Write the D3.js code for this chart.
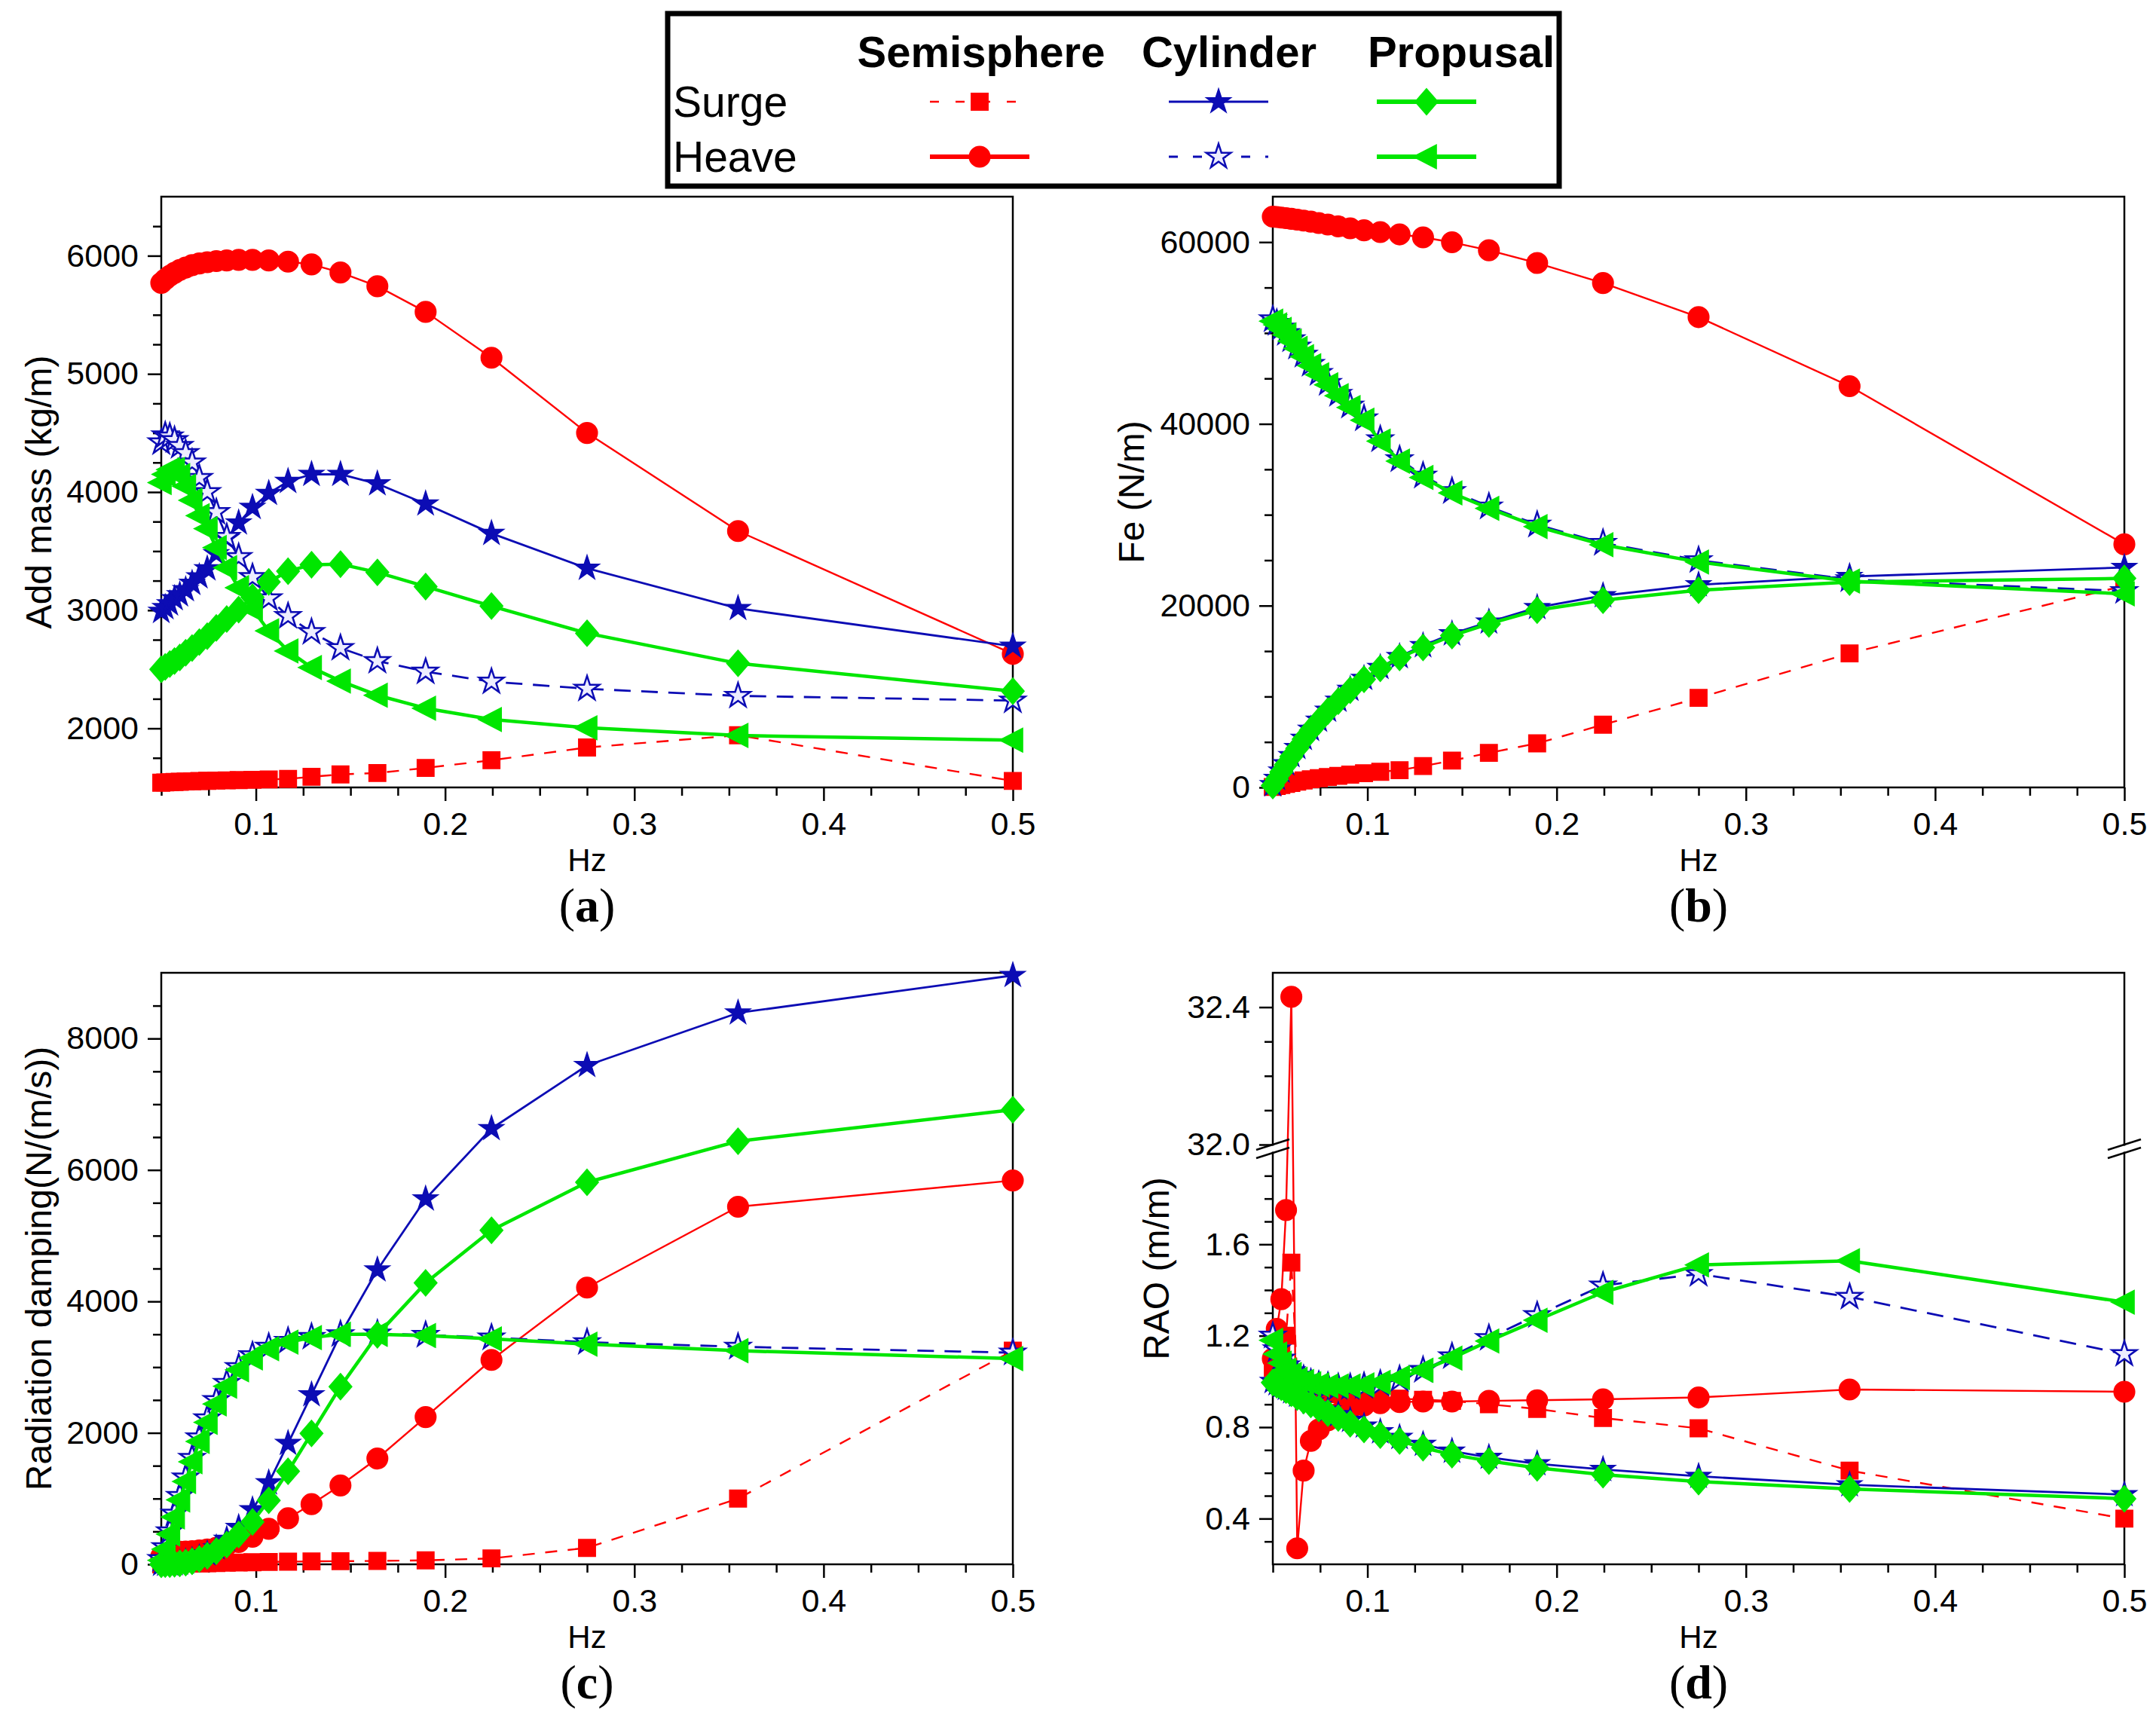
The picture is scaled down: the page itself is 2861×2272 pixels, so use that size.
<!DOCTYPE html>
<html>
<head>
<meta charset="utf-8">
<title>Semisphere / Cylinder / Propusal hydrodynamics</title>
<script src="https://cdnjs.cloudflare.com/ajax/libs/d3/7.8.5/d3.min.js"></script>
<style>
  body { margin: 0; background: #fff; }
  svg { display: block; }
</style>
</head>
<body>
<svg id="chart" width="2861" height="2272"></svg>
<script>
// frequency points (Hz), shared by every panel
var freq = [0.0500, 0.0521, 0.0545, 0.0570, 0.0598, 0.0629, 0.0663, 0.0701, 0.0743, 0.0791, 0.0846, 0.0909,
            0.0982, 0.1068, 0.1170, 0.1294, 0.1447, 0.1642, 0.1897, 0.2245, 0.2750, 0.3548, 0.5000];

// (a) added mass, kg/m
var massSemiSurge = [1540, 1542, 1544, 1546, 1548, 1550, 1552, 1554, 1556, 1558, 1560, 1562, 1565, 1568, 1572, 1590, 1610, 1622, 1665, 1730, 1838, 1942, 1555];
var massSemiHeave = [5770, 5800, 5830, 5855, 5880, 5900, 5920, 5935, 5945, 5955, 5960, 5965, 5965, 5960, 5950, 5927, 5858, 5742, 5525, 5137, 4500, 3670, 2630];
var massCylSurge  = [2990, 3022, 3054, 3098, 3130, 3174, 3228, 3283, 3350, 3478, 3609, 3739, 3870, 3989, 4090, 4150, 4150, 4070, 3900, 3650, 3355, 3015, 2695];
var massCylHeave  = [4420, 4480, 4470, 4440, 4390, 4330, 4250, 4120, 4000, 3830, 3620, 3450, 3280, 3100, 2950, 2815, 2680, 2570, 2480, 2395, 2335, 2275, 2235];
var massPropSurge = [2500, 2520, 2545, 2570, 2600, 2640, 2680, 2730, 2780, 2850, 2925, 3005, 3110, 3240, 3330, 3385, 3390, 3320, 3200, 3035, 2805, 2550, 2315];
var massPropHeave = [4080, 4150, 4190, 4190, 4140, 4050, 3930, 3800, 3690, 3530, 3360, 3190, 3010, 2825, 2655, 2515, 2400, 2280, 2170, 2075, 2005, 1940, 1900];

// (b) exciting force Fe, N/m
var feSemiSurge = [50, 150, 260, 380, 500, 630, 770, 900, 1020, 1150, 1280, 1410, 1560, 1720, 1900, 2350, 2950, 3800, 4850, 6900, 9850, 14750, 22200];
var feSemiHeave = [62800, 62760, 62700, 62640, 62560, 62470, 62370, 62250, 62100, 61930, 61740, 61520, 61300, 61100, 60850, 60520, 59980, 59100, 57700, 55500, 51750, 44150, 26750];
var feCylSurge  = [300, 1000, 1800, 2600, 3500, 4400, 5400, 6400, 7400, 8500, 9600, 10800, 12000, 13200, 14400, 15600, 16900, 18200, 19800, 21100, 22300, 23200, 24200];
var feCylHeave  = [51500, 51100, 50600, 50000, 49300, 48500, 47600, 46600, 45600, 44500, 43300, 42000, 40600, 38300, 36100, 34300, 32600, 30900, 28900, 26900, 25000, 22900, 21600];
var fePropSurge = [200, 900, 1700, 2500, 3400, 4300, 5300, 6300, 7300, 8400, 9500, 10700, 11900, 13100, 14300, 15400, 16700, 18000, 19500, 20600, 21700, 22600, 23000];
var fePropHeave = [51300, 50900, 50400, 49800, 49100, 48300, 47400, 46400, 45400, 44300, 43100, 41800, 40400, 38100, 35900, 34100, 32400, 30700, 28700, 26700, 24800, 22700, 21300];

// (c) radiation damping, N/(m/s)
var dampSemiSurge = [0, 2, 4, 6, 8, 10, 12, 14, 17, 20, 24, 28, 32, 36, 40, 44, 48, 52, 60, 90, 250, 1000, 3250];
var dampSemiHeave = [120, 150, 170, 180, 190, 195, 200, 210, 225, 250, 290, 340, 420, 540, 700, 915, 1200, 1610, 2240, 3110, 4210, 5440, 5840];
var dampCylSurge  = [0, 2, 5, 10, 20, 35, 60, 100, 160, 250, 380, 560, 830, 1240, 1840, 2580, 3500, 4480, 5560, 6630, 7590, 8390, 8960];
var dampCylHeave  = [80, 260, 500, 770, 1040, 1320, 1620, 1930, 2220, 2500, 2760, 3000, 3180, 3310, 3400, 3460, 3500, 3510, 3490, 3450, 3380, 3310, 3220];
var dampPropSurge = [0, 2, 4, 8, 15, 25, 45, 80, 130, 200, 300, 454, 646, 973, 1415, 1992, 2704, 3492, 4281, 5083, 5813, 6438, 6917];
var dampPropHeave = [60, 230, 460, 720, 980, 1260, 1560, 1870, 2160, 2440, 2710, 2960, 3140, 3280, 3380, 3450, 3500, 3500, 3480, 3430, 3350, 3250, 3130];

// (d) RAO, m/m
var raoSemiSurge = [1.06, 1.08, 1.12, 1.20, 1.52, 1.02, 0.99, 0.975, 0.965, 0.955, 0.945, 0.94, 0.935, 0.93, 0.925, 0.92, 0.915, 0.90, 0.88, 0.84, 0.795, 0.61, 0.40];
var raoSemiHeave = [1.10, 1.23, 1.36, 1.75, 32.43, 0.27, 0.61, 0.74, 0.79, 0.83, 0.86, 0.88, 0.895, 0.905, 0.91, 0.912, 0.912, 0.915, 0.918, 0.922, 0.93, 0.965, 0.955];
var raoCylSurge  = [1.0, 0.99, 0.98, 0.97, 0.955, 0.94, 0.925, 0.91, 0.895, 0.875, 0.855, 0.83, 0.805, 0.78, 0.755, 0.725, 0.695, 0.668, 0.64, 0.615, 0.585, 0.548, 0.505];
var raoCylHeave  = [1.20, 1.14, 1.10, 1.07, 1.045, 1.025, 1.01, 0.995, 0.985, 0.98, 0.975, 0.975, 0.98, 0.99, 1.01, 1.05, 1.11, 1.19, 1.29, 1.42, 1.47, 1.37, 1.12];
var raoPropSurge = [0.995, 0.985, 0.975, 0.962, 0.948, 0.932, 0.916, 0.90, 0.882, 0.862, 0.84, 0.815, 0.79, 0.765, 0.74, 0.71, 0.68, 0.652, 0.622, 0.592, 0.562, 0.53, 0.487];
var raoPropHeave = [1.18, 1.12, 1.08, 1.05, 1.03, 1.01, 1.0, 0.99, 0.985, 0.98, 0.98, 0.98, 0.985, 0.996, 1.017, 1.049, 1.102, 1.177, 1.268, 1.39, 1.51, 1.528, 1.347];

// legend / tick labels
var bodies = ["Semisphere", "Cylinder", "Propusal"];
var motions = ["Surge", "Heave"];
var xTicks = [0.1, 0.2, 0.3, 0.4, 0.5];
var massTicks = [2000, 3000, 4000, 5000, 6000];
var feTicks = [0, 20000, 40000, 60000];
var dampTicks = [0, 2000, 4000, 6000, 8000];
var raoTicks = [0.4, 0.8, 1.2, 1.6, 32.0, 32.4];

var RED = "#ff0000", BLUE = "#0c0cb4", GREEN = "#00e600";
var SANS = "'Liberation Sans', Arial, sans-serif";
var SERIF = "'Liberation Serif', 'Times New Roman', serif";

/* custom marker shapes */
var diamond = {
    draw: function (ctx, size) {
        var h = Math.sqrt(size) * 0.8, w = h * 0.87;
        ctx.moveTo(0, -h); ctx.lineTo(w, 0); ctx.lineTo(0, h); ctx.lineTo(-w, 0); ctx.closePath();
    }
};
var triLeft = {
    draw: function (ctx, size) {
        var r = Math.sqrt(size) * 0.85;
        ctx.moveTo(-r, 0); ctx.lineTo(r * 0.75, -r * 0.9); ctx.lineTo(r * 0.75, r * 0.9); ctx.closePath();
    }
};

// one style per body/motion pair
var styles = {
    semiSurge: { color: RED, width: 2.4, dash: "16,14", symbol: d3.symbolSquare, size: 500, fill: RED },
    semiHeave: { color: RED, width: 2.4, dash: null, symbol: d3.symbolCircle, size: 600, fill: RED },
    cylSurge:  { color: BLUE, width: 2.8, dash: null, symbol: d3.symbolStar, size: 330, fill: BLUE },
    cylHeave:  { color: BLUE, width: 2.8, dash: "22,14", symbol: d3.symbolStar, size: 330, fill: "#ececff" },
    propSurge: { color: GREEN, width: 4.5, dash: null, symbol: diamond, size: 470, fill: GREEN },
    propHeave: { color: GREEN, width: 4.5, dash: null, symbol: triLeft, size: 420, fill: GREEN }
};
var order = ["semiSurge", "semiHeave", "cylSurge", "cylHeave", "propSurge", "propHeave"];

var panels = [
    { tag: "a", left: 214, right: 1344, top: 261, bottom: 1045, domain: [1500, 6500], ticks: massTicks, minor: 250,
      fmt: d3.format("d"), title: "Add mass (kg/m)", titleX: 51,
      data: { semiSurge: massSemiSurge, semiHeave: massSemiHeave, cylSurge: massCylSurge, cylHeave: massCylHeave, propSurge: massPropSurge, propHeave: massPropHeave } },
    { tag: "b", left: 1689, right: 2819, top: 261, bottom: 1045, domain: [0, 65000], ticks: feTicks, minor: 5000,
      fmt: d3.format("d"), title: "Fe (N/m)", titleX: 1501,
      data: { semiSurge: feSemiSurge, semiHeave: feSemiHeave, cylSurge: feCylSurge, cylHeave: feCylHeave, propSurge: fePropSurge, propHeave: fePropHeave } },
    { tag: "c", left: 214, right: 1344, top: 1291, bottom: 2076, domain: [0, 9000], ticks: dampTicks, minor: 500,
      fmt: d3.format("d"), title: "Radiation damping(N/(m/s))", titleX: 51,
      data: { semiSurge: dampSemiSurge, semiHeave: dampSemiHeave, cylSurge: dampCylSurge, cylHeave: dampCylHeave, propSurge: dampPropSurge, propHeave: dampPropHeave } },
    { tag: "d", left: 1689, right: 2819, top: 1291, bottom: 2076, broken: true, ticks: raoTicks,
      fmt: d3.format(".1f"), title: "RAO (m/m)", titleX: 1534,
      data: { semiSurge: raoSemiSurge, semiHeave: raoSemiHeave, cylSurge: raoCylSurge, cylHeave: raoCylHeave, propSurge: raoPropSurge, propHeave: raoPropHeave } }
];

var svg = d3.select("#chart");
svg.append("rect").attr("width", 2861).attr("height", 2272).attr("fill", "#fff");

function styleAxis(g) {
    g.select(".domain").remove();
    g.selectAll("line").attr("stroke", "#000").attr("stroke-width", 2.5);
    g.selectAll("text").attr("font-family", SANS).attr("font-size", 43).attr("fill", "#000");
}

panels.forEach(function (p) {
    var g = svg.append("g");
    var x = d3.scaleLinear().domain([0.05, 0.5]).range([p.left, p.right]);
    var y, lowTop, upBottom;
    if (p.broken) {
        lowTop = 1530; upBottom = 1519;
        y = d3.scaleLinear().domain([0.2, 2.0, 32.0, 32.5]).range([p.bottom, lowTop, upBottom, p.top]);
    } else {
        y = d3.scaleLinear().domain(p.domain).range([p.bottom, p.top]);
    }

    /* x axis: minor every 0.025, major every 0.1 */
    var xMinor = d3.range(0.05, 0.5001, 0.025).filter(function (v) {
        return xTicks.every(function (t) { return Math.abs(t - v) > 1e-6; });
    });
    g.append("g").attr("transform", "translate(0," + p.bottom + ")")
        .call(d3.axisBottom(x).tickValues(xMinor).tickSize(11).tickFormat(""))
        .call(styleAxis);
    g.append("g").attr("transform", "translate(0," + p.bottom + ")")
        .call(d3.axisBottom(x).tickValues(xTicks).tickSize(18).tickPadding(14).tickFormat(d3.format(".1f")))
        .call(styleAxis);

    /* y axis */
    var yMinor;
    if (p.broken) {
        yMinor = [0.3, 0.5, 0.6, 0.7, 0.9, 1.0, 1.1, 1.3, 1.4, 1.5, 1.7, 1.8, 1.9, 32.1, 32.2, 32.3];
    } else {
        yMinor = d3.range(p.domain[0], p.domain[1] + 1, p.minor).filter(function (v) {
            return p.ticks.indexOf(v) < 0 && v > p.domain[0] && v < p.domain[1];
        });
    }
    g.append("g").attr("transform", "translate(" + p.left + ",0)")
        .call(d3.axisLeft(y).tickValues(yMinor).tickSize(11).tickFormat(""))
        .call(styleAxis);
    g.append("g").attr("transform", "translate(" + p.left + ",0)")
        .call(d3.axisLeft(y).tickValues(p.ticks).tickSize(18).tickPadding(12).tickFormat(p.fmt))
        .call(styleAxis);

    /* frame */
    g.append("rect").attr("x", p.left).attr("y", p.top)
        .attr("width", p.right - p.left).attr("height", p.bottom - p.top)
        .attr("fill", "none").attr("stroke", "#000").attr("stroke-width", 2.5);

    /* series */
    var plot = g.append("g");
    order.forEach(function (key) {
        var s = styles[key];
        var pts = freq.map(function (f, i) { return [f, p.data[key][i]]; });
        var line = d3.line().x(function (d) { return x(d[0]); }).y(function (d) { return y(d[1]); });
        plot.append("path").datum(pts)
            .attr("d", line)
            .attr("fill", "none")
            .attr("stroke", s.color)
            .attr("stroke-width", s.width)
            .attr("stroke-dasharray", s.dash)
            .attr("stroke-linejoin", "round");
        plot.selectAll(null).data(pts).enter().append("path")
            .attr("d", d3.symbol().type(s.symbol).size(s.size))
            .attr("transform", function (d) { return "translate(" + x(d[0]) + "," + y(d[1]) + ")"; })
            .attr("fill", s.fill)
            .attr("stroke", s.color)
            .attr("stroke-width", s.fill === s.color ? 1.5 : 2.5);
    });

    /* axis break marks for (d) */
    if (p.broken) {
        [p.left, p.right].forEach(function (ax) {
            g.append("rect").attr("x", ax - 4).attr("y", upBottom + 1.5)
                .attr("width", 8).attr("height", lowTop - upBottom - 3).attr("fill", "#fff");
            [upBottom, lowTop].forEach(function (yy) {
                g.append("line")
                    .attr("x1", ax - 22).attr("y1", yy + 7)
                    .attr("x2", ax + 22).attr("y2", yy - 7)
                    .attr("stroke", "#000").attr("stroke-width", 2.5);
            });
        });
    }

    /* labels */
    var cx = (p.left + p.right) / 2;
    g.append("text").attr("x", cx).attr("y", p.bottom + 111)
        .attr("text-anchor", "middle").attr("font-family", SANS).attr("font-size", 42)
        .text("Hz");
    var tag = g.append("text").attr("x", cx).attr("y", p.bottom + 178)
        .attr("text-anchor", "middle").attr("font-family", SERIF).attr("font-size", 64);
    tag.append("tspan").text("(");
    tag.append("tspan").attr("font-weight", "bold").text(p.tag);
    tag.append("tspan").text(")");
    g.append("text")
        .attr("transform", "translate(" + p.titleX + "," + ((p.top + p.bottom) / 2) + ") rotate(-90)")
        .attr("text-anchor", "middle").attr("dominant-baseline", "central")
        .attr("font-family", SANS).attr("font-size", 48)
        .text(p.title);
});

/* legend */
var leg = svg.append("g");
leg.append("rect").attr("x", 886).attr("y", 18).attr("width", 1183).attr("height", 229)
    .attr("fill", "#fff").attr("stroke", "#000").attr("stroke-width", 7);
var colX = [1300, 1617, 1893];
var rowY = [135, 208];
bodies.forEach(function (b, i) {
    leg.append("text").attr("x", [1302, 1631, 1939][i]).attr("y", 68)
        .attr("text-anchor", "middle").attr("dominant-baseline", "central")
        .attr("font-family", SANS).attr("font-weight", "bold").attr("font-size", 58)
        .text(b);
});
motions.forEach(function (m, j) {
    leg.append("text").attr("x", 893).attr("y", rowY[j])
        .attr("dominant-baseline", "central")
        .attr("font-family", SANS).attr("font-size", 57)
        .text(m);
});
var legKeys = [["semiSurge", "semiHeave"], ["cylSurge", "cylHeave"], ["propSurge", "propHeave"]];
legKeys.forEach(function (pair, i) {
    pair.forEach(function (key, j) {
        var s = styles[key], cx = colX[i], cy = rowY[j];
        leg.append("line").attr("x1", cx - 66).attr("x2", cx + 66).attr("y1", cy).attr("y2", cy)
            .attr("stroke", s.color).attr("stroke-width", s.color === BLUE ? 3 : (s.dash ? 2.4 : 6))
            .attr("stroke-dasharray", s.dash ? (s.color === RED ? "12,22" : "12,20") : null);
        leg.append("path").attr("d", d3.symbol().type(s.symbol).size(s.size))
            .attr("transform", "translate(" + cx + "," + cy + ")")
            .attr("fill", s.fill).attr("stroke", s.color)
            .attr("stroke-width", s.fill === s.color ? 1.5 : 2.5);
    });
});
</script>
</body>
</html>
